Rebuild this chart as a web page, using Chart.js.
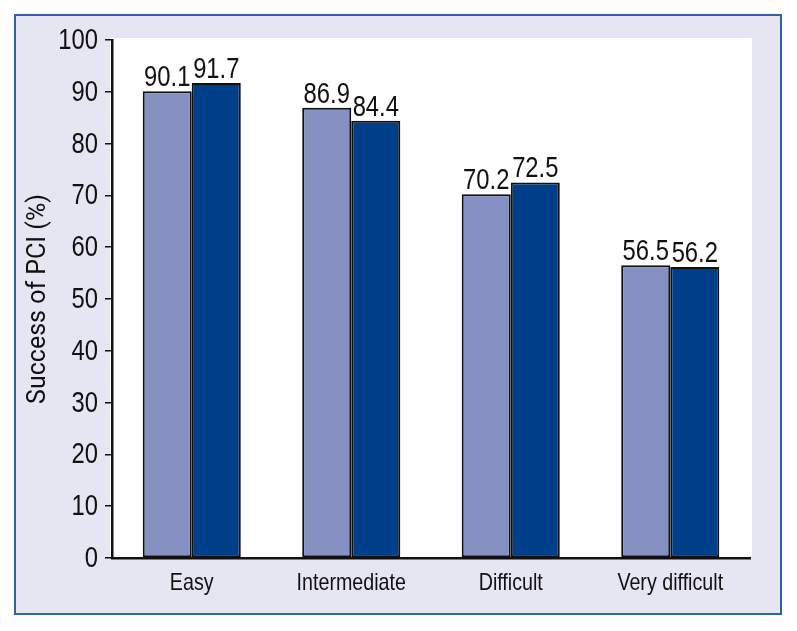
<!DOCTYPE html>
<html>
<head>
<meta charset="utf-8">
<script src="https://cdn.jsdelivr.net/npm/chart.js@4/dist/chart.umd.min.js"></script>
<style>
  html, body { margin: 0; padding: 0; background: #fff; }
  #wrap { width: 797px; height: 631px; }
</style>
</head>
<body>
<div id="wrap"><canvas id="pci"></canvas></div>
<script>
const categories = ['Easy', 'Intermediate', 'Difficult', 'Very difficult'];
const seriesA = [90.1, 86.9, 70.2, 56.5];
const seriesB = [91.7, 84.4, 72.5, 56.2];
const yTicks = [0, 10, 20, 30, 40, 50, 60, 70, 80, 90, 100];

const sans = '"Liberation Sans", Arial, sans-serif';
const squeeze = 0.82; // the source uses a condensed face

function narrowText(ctx, text, x, y, align, size) {
  ctx.save();
  ctx.translate(x, y);
  ctx.scale(squeeze, 1);
  ctx.font = size + 'px ' + sans;
  ctx.textAlign = align;
  ctx.fillText(text, 0, 0);
  ctx.restore();
}

// frame + lavender panel + white plot area
const framePlugin = {
  id: 'frame',
  beforeDraw(chart) {
    const ctx = chart.ctx;
    const a = chart.chartArea;
    ctx.save();
    ctx.fillStyle = '#ffffff';
    ctx.fillRect(0, 0, chart.width, chart.height);
    ctx.fillStyle = '#e5e6f2';
    ctx.fillRect(15, 15, 766, 599);
    ctx.strokeStyle = '#2e62aa';
    ctx.lineWidth = 2;
    ctx.strokeRect(15, 15, 766, 599);
    ctx.fillStyle = '#ffffff';
    ctx.fillRect(a.left - 2, a.top - 2, a.right - a.left + 4, a.bottom - a.top + 2);
    ctx.restore();
  }
};

// tick labels, category labels and bar values in a condensed look
const textPlugin = {
  id: 'texts',
  afterDraw(chart) {
    const ctx = chart.ctx;
    const xs = chart.scales.x, ys = chart.scales.y;
    ctx.save();
    ctx.fillStyle = '#111';
    ctx.textBaseline = 'middle';
    yTicks.forEach(v => {
      narrowText(ctx, String(v), ys.right - 14, ys.getPixelForValue(v) + 1, 'right', 29);
    });
    categories.forEach((c, i) => {
      narrowText(ctx, c, xs.getPixelForValue(i), xs.top + 25, 'center', 24);
    });
    ctx.textBaseline = 'alphabetic';
    chart.data.datasets.forEach((ds, i) => {
      chart.getDatasetMeta(i).data.forEach((bar, j) => {
        narrowText(ctx, ds.data[j].toFixed(1), bar.x, bar.y - 5, 'center', 29);
      });
    });
    ctx.restore();
  }
};

const data = {
  labels: categories,
  datasets: [{
    label: 'A',
    data: seriesA,
    backgroundColor: '#8790c2',
    borderColor: '#111',
    borderWidth: 2,
    borderSkipped: false
  }, {
    label: 'B',
    data: seriesB,
    backgroundColor: '#003f8a',
    borderColor: '#111',
    borderWidth: 2,
    borderSkipped: false
  }]
};

const config = {
  type: 'bar',
  data: data,
  options: {
    responsive: true,
    maintainAspectRatio: false,
    animation: false,
    events: [],
    datasets: {
      bar: { barPercentage: 1, categoryPercentage: 0.615 }
    },
    layout: {
      padding: { top: 40, right: 47, bottom: 20, left: 0 }
    },
    plugins: {
      legend: { display: false },
      tooltip: { enabled: false }
    },
    scales: {
      x: {
        grid: { display: false },
        border: { display: true, color: '#111', width: 2.5 },
        ticks: { display: false },
        afterFit(scale) { scale.height = 53; }
      },
      y: {
        min: 0,
        max: 100,
        afterBuildTicks(scale) { scale.ticks = yTicks.map(v => ({ value: v })); },
        grid: {
          drawOnChartArea: false,
          drawTicks: true,
          tickLength: 7,
          color: '#111',
          lineWidth: 1.5
        },
        border: { display: true, color: '#111', width: 2.5 },
        ticks: { display: false },
        title: {
          display: true,
          text: 'Success of PCI (%)',
          color: '#111',
          font: { family: 'Roboto, "Liberation Sans", sans-serif', size: 25 },
          padding: { top: 24, bottom: 0 }
        },
        afterFit(scale) { scale.width = 112; }
      }
    }
  },
  plugins: [framePlugin, textPlugin]
};

const pciChart = new Chart(document.getElementById('pci'), config);
</script>
</body>
</html>
